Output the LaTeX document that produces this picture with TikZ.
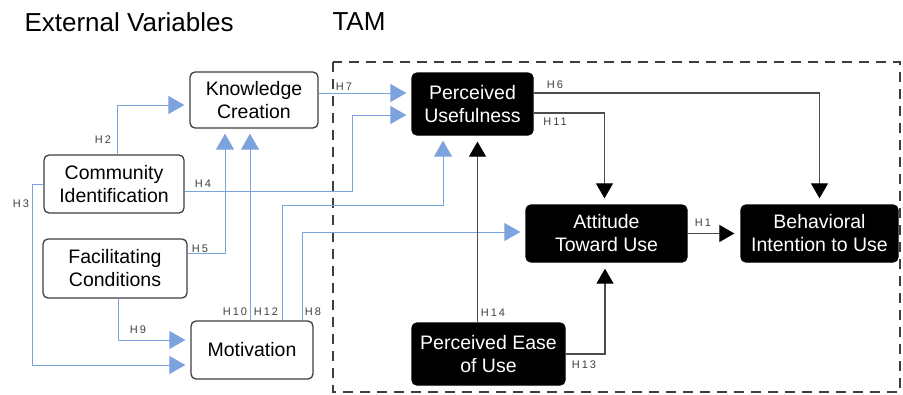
\documentclass[tikz,border=0pt]{standalone}
\usepackage{fontspec}
\setmainfont{Liberation Sans}
\newfontfamily\hfont[LetterSpace=18]{Liberation Sans}
\usepackage{xcolor}
\definecolor{tamblue}{RGB}{125,163,222}
\definecolor{tamgray}{RGB}{62,62,62}
\usetikzlibrary{arrows.meta}
\usetikzlibrary{positioning}

\begin{document}
\begin{tikzpicture}[x=1pt, y=-1pt,
    white box/.style={draw=tamgray, line width=1.3pt, rounded corners=5pt, fill=white, align=center,
      inner sep=0pt, font=\fontsize{19.5}{23}\selectfont},
    black box/.style={white box, fill=black, draw=black, text=white},
    hyp/.style={font=\hfont\fontsize{11}{12}\selectfont, text=black!75, inner sep=0pt},
    blue arrow/.style={draw=tamblue, line width=1pt, shorten >=5pt,
      -{Triangle[length=16pt,width=18pt]}},
    black arrow/.style={draw=black!70, line width=1.2pt, shorten >=6pt,
      -{Triangle[length=15pt,width=17pt,color=black]}}]

  \useasboundingbox (0,0) rectangle (903,394);

  \node [font=\fontsize{26}{30}\selectfont, anchor=west] (ext) at (21,22) {External Variables};
  \node [font=\fontsize{26}{30}\selectfont, anchor=west] (tam) at (329,22) {TAM};
  \draw [tamgray, line width=1.3pt, dash pattern=on 10pt off 7pt] (333,62) rectangle (900,392);

  % external variables
  \node [white box, minimum width=128pt, minimum height=56pt] (know) at (254,100) {Knowledge\\Creation};
  \node [white box, minimum width=140pt, minimum height=58pt] (comm) at (114,184) {Community\\Identification};
  \node [white box, minimum width=144pt, minimum height=59pt] (faci) at (115,268.5) {Facilitating\\Conditions};
  \node [white box, minimum width=122pt, minimum height=58pt] (moti) at (252,350) {Motivation};

  % TAM
  \node [black box, minimum width=121pt, minimum height=62pt] (pu) at (472.5,104) {Perceived\\Usefulness};
  \node [black box, minimum width=161pt, minimum height=57pt] (att) at (606.5,233.5) {Attitude\\Toward Use};
  \node [black box, minimum width=157pt, minimum height=57pt] (bi) at (819.5,233.5) {Behavioral\\Intention to Use};
  \node [black box, minimum width=153pt, minimum height=62pt] (peu) at (488.5,354) {Perceived Ease\\of Use};

  % external to external
  \draw [blue arrow] ([xshift=3pt]comm.north) |- ([yshift=-5pt]know.west);
  \draw [blue arrow] (comm.west) -- ++(-11,0) |- ([yshift=-15pt]moti.west);
  \draw [blue arrow] ([xshift=3pt]faci.south) |- ([yshift=10pt]moti.west);
  \draw [blue arrow] ([yshift=15pt]faci.east) -| ([xshift=-29pt]know.south);
  \draw [blue arrow] ([xshift=-2pt]moti.north) -- ([xshift=-4pt]know.south);

  % external to TAM
  \draw [blue arrow] ([yshift=7pt]know.east) -- ([yshift=11pt]pu.west);
  \draw [blue arrow] ([yshift=-7pt]comm.east) -- ++(168,0) |- ([yshift=-11pt]pu.west);
  \draw [blue arrow] ([xshift=30pt]moti.north) -- ++(0,-115) -| ([xshift=-29.5pt]pu.south);
  \draw [blue arrow] ([xshift=50pt]moti.north) |- ([yshift=1.5pt]att.west);

  % inside TAM
  \draw [black arrow] ([yshift=11pt]pu.east) -| (bi.north);
  \draw [black arrow] ([yshift=-9pt]pu.east) -| ([xshift=-2pt]att.north);
  \draw [black arrow] (att.east) -- (bi.west);
  \draw [black arrow] (peu.east) -| ([xshift=-1.5pt]att.south);
  \draw [black arrow] ([xshift=-11pt]peu.north) -- ([xshift=5pt]pu.south);

  % hypotheses
  \node [hyp] (lH1) at (703,223) {H1};
  \node [hyp] (lH2) at (103,140) {H2};
  \node [hyp] (lH3) at (21,204) {H3};
  \node [hyp] (lH4) at (203,184) {H4};
  \node [hyp] (lH5) at (200,249) {H5};
  \node [hyp] (lH6) at (555,85) {H6};
  \node [hyp] (lH7) at (344,87) {H7};
  \node [hyp] (lH8) at (313,312) {H8};
  \node [hyp] (lH9) at (138,330) {H9};
  \node [hyp] (lH10) at (235,312) {H10};
  \node [hyp] (lH11) at (555,122) {H11};
  \node [hyp] (lH12) at (266,312) {H12};
  \node [hyp] (lH13) at (584,365) {H13};
  \node [hyp] (lH14) at (493,313) {H14};

\end{tikzpicture}
\end{document}
